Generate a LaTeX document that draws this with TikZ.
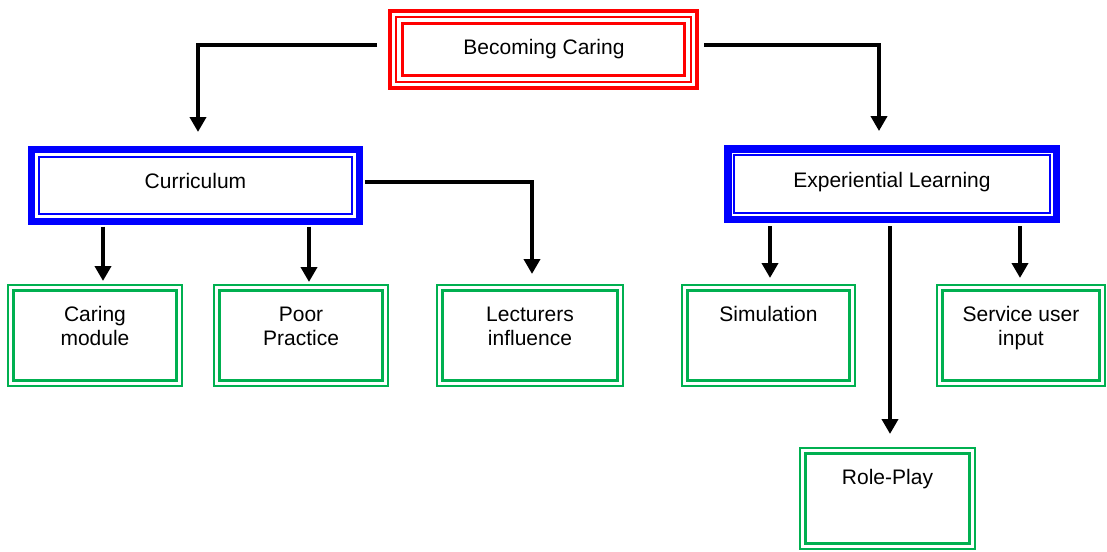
\documentclass[tikz,border=0pt]{standalone}
\usepackage{fontspec}
\setmainfont{Liberation Sans}
\usetikzlibrary{arrows.meta}
\definecolor{gboxcol}{RGB}{0,176,80}
\newcommand\gbox[5]{%
  \node[box, draw=gboxcol, line width=2pt, minimum width=#4pt, minimum height=101pt, anchor=north] (#1) at (#2,#3) {};
  \draw[gboxcol, line width=3pt] ([shift={(5.8,5.8)}]#1.north west) rectangle ([shift={(-5.8,-5.8)}]#1.south east);
  \node[lbl, anchor=north] (#1t) at ([yshift=-21.5pt]#1.north) {#5};
}
\begin{document}
\begin{tikzpicture}[x=1pt,y=-1pt,
  box/.style={draw, rectangle, inner sep=0pt, outer sep=0pt},
  lbl/.style={font=\fontsize{21}{24}\selectfont, inner sep=0pt, align=center},
  arr/.style={line width=4.5pt, -{Triangle[width=16pt,length=15pt]}},
]
\useasboundingbox (0,0) rectangle (1107,551);
\fill[white] (0,0) rectangle (1107,551);

% top box
\node[box, draw=red, line width=4pt, minimum width=307pt, minimum height=77pt] (bc) at (543.5,49.5) {};
\draw[red, line width=1.5pt] ([shift={(6,6)}]bc.north west) rectangle ([shift={(-6,-6)}]bc.south east);
\draw[red, line width=3.5pt] ([shift={(12.5,12.5)}]bc.north west) rectangle ([shift={(-12.5,-12.5)}]bc.south east);
\node[lbl, anchor=base] (bct) at (544,54.5) {Becoming Caring};

% curriculum
\node[box, draw=blue, line width=7pt, minimum width=328pt, minimum height=72pt] (cur) at (195.5,185.5) {};
\draw[blue, line width=1.5pt] ([shift={(7.5,7.5)}]cur.north west) rectangle ([shift={(-7.5,-7.5)}]cur.south east);
\node[lbl, anchor=base] (curt) at (195.5,188) {Curriculum};

% experiential learning
\node[box, draw=blue, line width=7.5pt, minimum width=328.7pt, minimum height=70.7pt] (el) at (892.2,184.2) {};
\draw[blue, line width=2pt] ([shift={(6.5,6.5)}]el.north west) rectangle ([shift={(-6.5,-6.5)}]el.south east);
\node[lbl, anchor=base] (elt) at (892,187.5) {Experiential Learning};

% green boxes
\gbox{cm}{95}{285}{174}{Caring\\module}
\gbox{pp}{301}{285}{174}{Poor\\Practice}
\gbox{lec}{530}{285}{186}{Lecturers\\influence}
\gbox{sim}{768.5}{285}{173}{Simulation}
\gbox{su}{1021}{285}{168}{Service user\\input}
\gbox{rp}{887.5}{448}{175}{Role-Play}

% connectors
\draw[arr] ([shift={(-13,-4.5)}]bc.west) -| ([shift={(2.5,-17.5)}]cur.north);
\draw[arr] ([shift={(7,-4.5)}]bc.east) -| ([shift={(-13.2,-17.8)}]el.north);
\draw[arr] ([shift={(-92.5,5)}]cur.south) -- ([shift={(8,-4)}]cm.north);
\draw[arr] ([shift={(113.5,5)}]cur.south) -- ([shift={(8,-3)}]pp.north);
\draw[arr] ([shift={(5.5,-3.5)}]cur.east) -| ([shift={(2,-11)}]lec.north);
\draw[arr] ([shift={(-122.2,6.5)}]el.south) -- ([shift={(1.5,-7)}]sim.north);
\draw[arr] ([shift={(-2.2,6.5)}]el.south) -- ([shift={(2.5,-14)}]rp.north);
\draw[arr] ([shift={(127.8,6.5)}]el.south) -- ([shift={(-1,-7)}]su.north);
\end{tikzpicture}
\end{document}
